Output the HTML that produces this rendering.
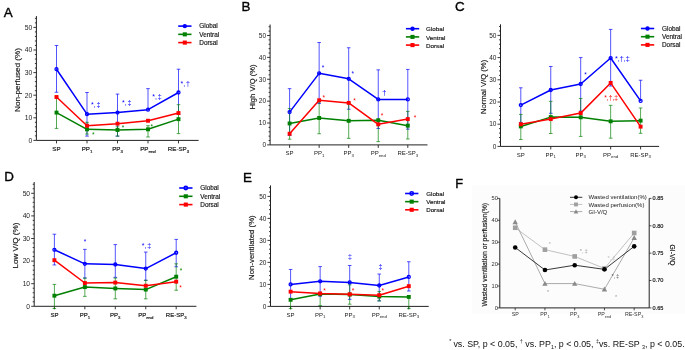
<!DOCTYPE html>
<html><head><meta charset="utf-8"><style>
html,body{margin:0;padding:0;background:#fff;}
svg{display:block;will-change:transform;font-family:"Liberation Sans", sans-serif;}
text{stroke-width:0.18px;}
.k{stroke:#1a1a1a;}
</style></head><body>
<svg width="685" height="350" viewBox="0 0 685 350">
<rect width="685" height="350" fill="#fff"/>
<rect x="472" y="185.5" width="213" height="128.5" fill="#fcfcfc"/>
<text x="3.8" y="17.3" font-size="13.4" fill="#000" style="stroke:#000;stroke-width:0.35px">A</text>
<path d="M36.4 16.1 V140.4 H198.6" fill="none" stroke="#222" stroke-width="1"/>
<path d="M33.4 140.4 H36.4 M34.9 135.88 H36.4 M34.9 131.36 H36.4 M34.9 126.84 H36.4 M34.9 122.32 H36.4 M33.4 117.8 H36.4 M34.9 113.28 H36.4 M34.9 108.76 H36.4 M34.9 104.24 H36.4 M34.9 99.72 H36.4 M33.4 95.2 H36.4 M34.9 90.68 H36.4 M34.9 86.16 H36.4 M34.9 81.64 H36.4 M34.9 77.12 H36.4 M33.4 72.6 H36.4 M34.9 68.08 H36.4 M34.9 63.56 H36.4 M34.9 59.04 H36.4 M34.9 54.52 H36.4 M33.4 50 H36.4 M34.9 45.48 H36.4 M34.9 40.96 H36.4 M34.9 36.44 H36.4 M34.9 31.92 H36.4 M33.4 27.4 H36.4 M34.9 22.88 H36.4 M34.9 18.36 H36.4 M56.5 140.4 V143.4 M87 140.4 V143.4 M117.5 140.4 V143.4 M148 140.4 V143.4 M178.5 140.4 V143.4" stroke="#222" stroke-width="0.9" fill="none"/>
<text x="32.3" y="142.78" font-size="6.8" text-anchor="end" fill="#222">0</text>
<text x="32.3" y="120.18" font-size="6.8" text-anchor="end" fill="#222">10</text>
<text x="32.3" y="97.58" font-size="6.8" text-anchor="end" fill="#222">20</text>
<text x="32.3" y="74.98" font-size="6.8" text-anchor="end" fill="#222">30</text>
<text x="32.3" y="52.38" font-size="6.8" text-anchor="end" fill="#222">40</text>
<text x="32.3" y="29.78" font-size="6.8" text-anchor="end" fill="#222">50</text>
<text x="56.5" y="151.1" font-size="6.2" text-anchor="middle" fill="#1a1a1a" class="k">SP</text>
<text x="87" y="151.1" font-size="6.2" text-anchor="middle" fill="#1a1a1a" class="k">PP<tspan font-size="4.4" dy="1.5">1</tspan></text>
<text x="117.5" y="151.1" font-size="6.2" text-anchor="middle" fill="#1a1a1a" class="k">PP<tspan font-size="4.4" dy="1.5">3</tspan></text>
<text x="148" y="151.1" font-size="6.2" text-anchor="middle" fill="#1a1a1a" class="k">PP<tspan font-size="4.4" dy="1.5">end</tspan></text>
<text x="178.5" y="151.1" font-size="6.2" text-anchor="middle" fill="#1a1a1a" class="k">RE-SP<tspan font-size="4.4" dy="1.5">3</tspan></text>
<text transform="translate(20.2,80) rotate(-90)" font-size="8.1" text-anchor="middle" fill="#1a1a1a" class="k">Non-perfused (%)</text>
<path d="M56.5 69.21 V45.48 M54.7 45.48 H58.3 M56.5 69.21 V92.26 M54.7 92.26 H58.3 M87 114.18 V92.49 M85.2 92.49 H88.8 M87 114.18 V136.11 M85.2 136.11 H88.8 M117.5 112.6 V94.07 M115.7 94.07 H119.3 M117.5 112.6 V136.11 M115.7 136.11 H119.3 M148 109.66 V88.65 M146.2 88.65 H149.8 M178.5 92.49 V69.21 M176.7 69.21 H180.3 M178.5 92.49 V114.41 M176.7 114.41 H180.3" stroke="#0000ff" stroke-width="0.85" fill="none" opacity="0.8"/>
<path d="M56.5 112.6 V96.78 M54.7 96.78 H58.3 M56.5 112.6 V128.42 M54.7 128.42 H58.3 M87 129.33 V122.32 M85.2 122.32 H88.8 M87 129.33 V134.07 M85.2 134.07 H88.8 M117.5 130 V126.84 M115.7 126.84 H119.3 M117.5 130 V136.11 M115.7 136.11 H119.3 M148 129.33 V125.71 M146.2 125.71 H149.8 M148 129.33 V137.01 M146.2 137.01 H149.8 M178.5 119.16 V104.69 M176.7 104.69 H180.3 M178.5 119.16 V133.62 M176.7 133.62 H180.3" stroke="#008000" stroke-width="0.85" fill="none" opacity="0.8"/>
<polyline points="56.5,69.21 87,114.18 117.5,112.6 148,109.66 178.5,92.49" fill="none" stroke="#0000ff" stroke-width="1.5" stroke-linejoin="round"/>
<circle cx="56.5" cy="69.21" r="1.5" fill="none" stroke="#0000ff" stroke-width="1.3"/>
<circle cx="87" cy="114.18" r="1.5" fill="none" stroke="#0000ff" stroke-width="1.3"/>
<circle cx="117.5" cy="112.6" r="1.5" fill="none" stroke="#0000ff" stroke-width="1.3"/>
<circle cx="148" cy="109.66" r="1.5" fill="none" stroke="#0000ff" stroke-width="1.3"/>
<circle cx="178.5" cy="92.49" r="1.5" fill="none" stroke="#0000ff" stroke-width="1.3"/>
<polyline points="56.5,112.6 87,129.33 117.5,130 148,129.33 178.5,119.16" fill="none" stroke="#008000" stroke-width="1.5" stroke-linejoin="round"/>
<rect x="54.55" y="110.65" width="3.9" height="3.9" fill="#008000"/>
<rect x="85.05" y="127.38" width="3.9" height="3.9" fill="#008000"/>
<rect x="115.55" y="128.05" width="3.9" height="3.9" fill="#008000"/>
<rect x="146.05" y="127.38" width="3.9" height="3.9" fill="#008000"/>
<rect x="176.55" y="117.21" width="3.9" height="3.9" fill="#008000"/>
<polyline points="56.5,97.01 87,125.71 117.5,123.68 148,120.74 178.5,113.05" fill="none" stroke="#ff0000" stroke-width="1.5" stroke-linejoin="round"/>
<rect x="54.55" y="95.06" width="3.9" height="3.9" fill="#ff0000"/>
<rect x="85.05" y="123.76" width="3.9" height="3.9" fill="#ff0000"/>
<rect x="115.55" y="121.73" width="3.9" height="3.9" fill="#ff0000"/>
<rect x="146.05" y="118.79" width="3.9" height="3.9" fill="#ff0000"/>
<rect x="176.55" y="111.1" width="3.9" height="3.9" fill="#ff0000"/>
<path d="M178.2 26.1 H191.5" stroke="#0000ff" stroke-width="1.6"/>
<circle cx="184.8" cy="26.1" r="2.18" fill="#0000ff"/>
<text x="199.3" y="28.34" font-size="6.4" fill="#1a1a1a" class="k">Global</text>
<path d="M178.2 34.35 H191.5" stroke="#008000" stroke-width="1.6"/>
<rect x="182.75" y="32.3" width="4.09" height="4.09" fill="#008000"/>
<text x="199.3" y="36.59" font-size="6.4" fill="#1a1a1a" class="k">Ventral</text>
<path d="M178.2 42.6 H191.5" stroke="#ff0000" stroke-width="1.6"/>
<rect x="182.75" y="40.55" width="4.09" height="4.09" fill="#ff0000"/>
<text x="199.3" y="44.84" font-size="6.4" fill="#1a1a1a" class="k">Dorsal</text>
<text x="91.1" y="106.7" font-size="7" fill="#0000ff">*,<tspan dx="0.8">‡</tspan></text>
<text x="122" y="105.3" font-size="7" fill="#0000ff">*,<tspan dx="0.8">‡</tspan></text>
<text x="152.3" y="98.5" font-size="7" fill="#0000ff">*,<tspan dx="0.8">‡</tspan></text>
<text x="180.6" y="86" font-size="7" fill="#0000ff">*,<tspan dx="0.8">†</tspan></text>
<text x="91.93" y="137.28" font-size="6.5" fill="#008000">*</text>
<text x="121.73" y="130.18" font-size="6.5" fill="#008000">*</text>
<text x="150.53" y="128.58" font-size="6.5" fill="#008000">*</text>
<text x="241.6" y="11.1" font-size="13.4" fill="#000" style="stroke:#000;stroke-width:0.35px">B</text>
<path d="M270.1 24.56 V144.9 H427.5" fill="none" stroke="#222" stroke-width="1"/>
<path d="M267.1 144.9 H270.1 M268.6 140.52 H270.1 M268.6 136.15 H270.1 M268.6 131.77 H270.1 M268.6 127.4 H270.1 M267.1 123.02 H270.1 M268.6 118.64 H270.1 M268.6 114.27 H270.1 M268.6 109.89 H270.1 M268.6 105.52 H270.1 M267.1 101.14 H270.1 M268.6 96.76 H270.1 M268.6 92.39 H270.1 M268.6 88.01 H270.1 M268.6 83.64 H270.1 M267.1 79.26 H270.1 M268.6 74.88 H270.1 M268.6 70.51 H270.1 M268.6 66.13 H270.1 M268.6 61.76 H270.1 M267.1 57.38 H270.1 M268.6 53 H270.1 M268.6 48.63 H270.1 M268.6 44.25 H270.1 M268.6 39.88 H270.1 M267.1 35.5 H270.1 M268.6 31.12 H270.1 M268.6 26.75 H270.1 M289.6 144.9 V147.9 M319.15 144.9 V147.9 M348.7 144.9 V147.9 M378.25 144.9 V147.9 M407.8 144.9 V147.9" stroke="#222" stroke-width="0.9" fill="none"/>
<text x="266" y="147.18" font-size="6.5" text-anchor="end" fill="#222">0</text>
<text x="266" y="125.3" font-size="6.5" text-anchor="end" fill="#222">10</text>
<text x="266" y="103.42" font-size="6.5" text-anchor="end" fill="#222">20</text>
<text x="266" y="81.54" font-size="6.5" text-anchor="end" fill="#222">30</text>
<text x="266" y="59.65" font-size="6.5" text-anchor="end" fill="#222">40</text>
<text x="266" y="37.77" font-size="6.5" text-anchor="end" fill="#222">50</text>
<text x="289.6" y="155.2" font-size="6.0" text-anchor="middle" fill="#222" class="n">SP</text>
<text x="319.15" y="155.2" font-size="6.0" text-anchor="middle" fill="#222" class="n">PP<tspan font-size="4.3" dy="1.5">1</tspan></text>
<text x="348.7" y="155.2" font-size="6.0" text-anchor="middle" fill="#222" class="n">PP<tspan font-size="4.3" dy="1.5">3</tspan></text>
<text x="378.25" y="155.2" font-size="6.0" text-anchor="middle" fill="#222" class="n">PP<tspan font-size="4.3" dy="1.5">end</tspan></text>
<text x="407.8" y="155.2" font-size="6.0" text-anchor="middle" fill="#222" class="n">RE-SP<tspan font-size="4.3" dy="1.5">3</tspan></text>
<text transform="translate(254.5,86.9) rotate(-90)" font-size="7.65" text-anchor="middle" fill="#1a1a1a" class="k">High V/Q (%)</text>
<path d="M289.6 112.08 V88.67 M287.8 88.67 H291.4 M289.6 112.08 V135.49 M287.8 135.49 H291.4 M319.15 73.35 V42.5 M317.35 42.5 H320.95 M319.15 73.35 V103.55 M317.35 103.55 H320.95 M348.7 78.82 V47.75 M346.9 47.75 H350.5 M348.7 78.82 V109.24 M346.9 109.24 H350.5 M378.25 99.39 V69.85 M376.45 69.85 H380.05 M378.25 99.39 V128.49 M376.45 128.49 H380.05 M407.8 99.39 V69.41 M406 69.41 H409.6 M407.8 99.39 V129.15 M406 129.15 H409.6" stroke="#0000ff" stroke-width="0.85" fill="none" opacity="0.8"/>
<path d="M289.6 123.46 V108.58 M287.8 108.58 H291.4 M289.6 123.46 V139.21 M287.8 139.21 H291.4 M319.15 117.99 V102.02 M317.35 102.02 H320.95 M319.15 117.99 V133.74 M317.35 133.74 H320.95 M348.7 120.83 V102.23 M346.9 102.23 H350.5 M348.7 120.83 V138.34 M346.9 138.34 H350.5 M378.25 120.18 V141.62 M376.45 141.62 H380.05 M407.8 125.65 V111.42 M406 111.42 H409.6 M407.8 125.65 V138.99 M406 138.99 H409.6" stroke="#008000" stroke-width="0.85" fill="none" opacity="0.8"/>
<polyline points="289.6,112.08 319.15,73.35 348.7,78.82 378.25,99.39 407.8,99.39" fill="none" stroke="#0000ff" stroke-width="1.5" stroke-linejoin="round"/>
<circle cx="289.6" cy="112.08" r="1.5" fill="none" stroke="#0000ff" stroke-width="1.3"/>
<circle cx="319.15" cy="73.35" r="1.5" fill="none" stroke="#0000ff" stroke-width="1.3"/>
<circle cx="348.7" cy="78.82" r="1.5" fill="none" stroke="#0000ff" stroke-width="1.3"/>
<circle cx="378.25" cy="99.39" r="1.5" fill="none" stroke="#0000ff" stroke-width="1.3"/>
<circle cx="407.8" cy="99.39" r="1.5" fill="none" stroke="#0000ff" stroke-width="1.3"/>
<polyline points="289.6,123.46 319.15,117.99 348.7,120.83 378.25,120.18 407.8,125.65" fill="none" stroke="#008000" stroke-width="1.5" stroke-linejoin="round"/>
<rect x="287.65" y="121.51" width="3.9" height="3.9" fill="#008000"/>
<rect x="317.2" y="116.04" width="3.9" height="3.9" fill="#008000"/>
<rect x="346.75" y="118.88" width="3.9" height="3.9" fill="#008000"/>
<rect x="376.3" y="118.23" width="3.9" height="3.9" fill="#008000"/>
<rect x="405.85" y="123.7" width="3.9" height="3.9" fill="#008000"/>
<polyline points="289.6,133.74 319.15,100.26 348.7,102.89 378.25,124.33 407.8,119.08" fill="none" stroke="#ff0000" stroke-width="1.5" stroke-linejoin="round"/>
<rect x="287.65" y="131.79" width="3.9" height="3.9" fill="#ff0000"/>
<rect x="317.2" y="98.31" width="3.9" height="3.9" fill="#ff0000"/>
<rect x="346.75" y="100.94" width="3.9" height="3.9" fill="#ff0000"/>
<rect x="376.3" y="122.38" width="3.9" height="3.9" fill="#ff0000"/>
<rect x="405.85" y="117.13" width="3.9" height="3.9" fill="#ff0000"/>
<path d="M405.9 28.7 H419.2" stroke="#0000ff" stroke-width="1.6"/>
<circle cx="412.5" cy="28.7" r="2.18" fill="#0000ff"/>
<text x="426" y="31.39" font-size="6.25" fill="#1a1a1a" class="k">Global</text>
<path d="M405.9 36.9 H419.2" stroke="#008000" stroke-width="1.6"/>
<rect x="410.45" y="34.85" width="4.09" height="4.09" fill="#008000"/>
<text x="426" y="39.59" font-size="6.25" fill="#1a1a1a" class="k">Ventral</text>
<path d="M405.9 45.1 H419.2" stroke="#ff0000" stroke-width="1.6"/>
<rect x="410.45" y="43.05" width="4.09" height="4.09" fill="#ff0000"/>
<text x="426" y="47.79" font-size="6.25" fill="#1a1a1a" class="k">Dorsal</text>
<text x="321.63" y="70.28" font-size="6.5" fill="#0000ff">*</text>
<text x="351.53" y="76.08" font-size="6.5" fill="#0000ff">*</text>
<text x="382.3" y="95.04" font-size="7.4" fill="#0000ff">†</text>
<text x="322.43" y="99.68" font-size="6.5" fill="#ff0000">*</text>
<text x="353.23" y="102.98" font-size="6.5" fill="#ff0000">*</text>
<text x="380.73" y="118.38" font-size="6.5" fill="#ff0000">*</text>
<text x="413.73" y="119.98" font-size="6.5" fill="#ff0000">*</text>
<text x="455" y="11.1" font-size="13.4" fill="#000" style="stroke:#000;stroke-width:0.35px">C</text>
<path d="M500.5 24.3 V146.4 H659.1" fill="none" stroke="#222" stroke-width="1"/>
<path d="M497.5 146.4 H500.5 M499 141.96 H500.5 M499 137.52 H500.5 M499 133.08 H500.5 M499 128.64 H500.5 M497.5 124.2 H500.5 M499 119.76 H500.5 M499 115.32 H500.5 M499 110.88 H500.5 M499 106.44 H500.5 M497.5 102 H500.5 M499 97.56 H500.5 M499 93.12 H500.5 M499 88.68 H500.5 M499 84.24 H500.5 M497.5 79.8 H500.5 M499 75.36 H500.5 M499 70.92 H500.5 M499 66.48 H500.5 M499 62.04 H500.5 M497.5 57.6 H500.5 M499 53.16 H500.5 M499 48.72 H500.5 M499 44.28 H500.5 M499 39.84 H500.5 M497.5 35.4 H500.5 M499 30.96 H500.5 M499 26.52 H500.5 M520.8 146.4 V149.4 M550.75 146.4 V149.4 M580.7 146.4 V149.4 M610.65 146.4 V149.4 M640.6 146.4 V149.4" stroke="#222" stroke-width="0.9" fill="none"/>
<text x="496.4" y="148.68" font-size="6.5" text-anchor="end" fill="#222">0</text>
<text x="496.4" y="126.48" font-size="6.5" text-anchor="end" fill="#222">10</text>
<text x="496.4" y="104.28" font-size="6.5" text-anchor="end" fill="#222">20</text>
<text x="496.4" y="82.08" font-size="6.5" text-anchor="end" fill="#222">30</text>
<text x="496.4" y="59.87" font-size="6.5" text-anchor="end" fill="#222">40</text>
<text x="496.4" y="37.67" font-size="6.5" text-anchor="end" fill="#222">50</text>
<text x="520.8" y="156.8" font-size="6.0" text-anchor="middle" fill="#222" class="n">SP</text>
<text x="550.75" y="156.8" font-size="6.0" text-anchor="middle" fill="#222" class="n">PP<tspan font-size="4.3" dy="1.5">1</tspan></text>
<text x="580.7" y="156.8" font-size="6.0" text-anchor="middle" fill="#222" class="n">PP<tspan font-size="4.3" dy="1.5">3</tspan></text>
<text x="610.65" y="156.8" font-size="6.0" text-anchor="middle" fill="#222" class="n">PP<tspan font-size="4.3" dy="1.5">end</tspan></text>
<text x="640.6" y="156.8" font-size="6.0" text-anchor="middle" fill="#222" class="n">RE-SP<tspan font-size="4.3" dy="1.5">3</tspan></text>
<text transform="translate(485.5,86.9) rotate(-90)" font-size="7.7" text-anchor="middle" fill="#1a1a1a" class="k">Normal V/Q (%)</text>
<path d="M520.8 105.11 V87.79 M519 87.79 H522.6 M520.8 105.11 V122.42 M519 122.42 H522.6 M550.75 90.01 V66.48 M548.95 66.48 H552.55 M550.75 90.01 V113.32 M548.95 113.32 H552.55 M580.7 84.02 V57.6 M578.9 57.6 H582.5 M580.7 84.02 V111.1 M578.9 111.1 H582.5 M610.65 58.04 V29.41 M608.85 29.41 H612.45 M610.65 58.04 V86.02 M608.85 86.02 H612.45 M640.6 100.89 V80.24 M638.8 80.24 H642.4" stroke="#0000ff" stroke-width="0.85" fill="none" opacity="0.8"/>
<path d="M520.8 126.42 V114.43 M519 114.43 H522.6 M520.8 126.42 V139.52 M519 139.52 H522.6 M550.75 117.1 V101.33 M548.95 101.33 H552.55 M550.75 117.1 V133.52 M548.95 133.52 H552.55 M580.7 117.32 V98.45 M578.9 98.45 H582.5 M580.7 117.32 V136.41 M578.9 136.41 H582.5 M610.65 121.31 V105.33 M608.85 105.33 H612.45 M610.65 121.31 V138.19 M608.85 138.19 H612.45 M640.6 120.65 V107.99 M638.8 107.99 H642.4 M640.6 120.65 V133.3 M638.8 133.3 H642.4" stroke="#008000" stroke-width="0.85" fill="none" opacity="0.8"/>
<polyline points="520.8,105.11 550.75,90.01 580.7,84.02 610.65,58.04 640.6,100.89" fill="none" stroke="#0000ff" stroke-width="1.5" stroke-linejoin="round"/>
<circle cx="520.8" cy="105.11" r="1.5" fill="none" stroke="#0000ff" stroke-width="1.3"/>
<circle cx="550.75" cy="90.01" r="1.5" fill="none" stroke="#0000ff" stroke-width="1.3"/>
<circle cx="580.7" cy="84.02" r="1.5" fill="none" stroke="#0000ff" stroke-width="1.3"/>
<circle cx="610.65" cy="58.04" r="1.5" fill="none" stroke="#0000ff" stroke-width="1.3"/>
<circle cx="640.6" cy="100.89" r="1.5" fill="none" stroke="#0000ff" stroke-width="1.3"/>
<polyline points="520.8,126.42 550.75,117.1 580.7,117.32 610.65,121.31 640.6,120.65" fill="none" stroke="#008000" stroke-width="1.5" stroke-linejoin="round"/>
<rect x="518.85" y="124.47" width="3.9" height="3.9" fill="#008000"/>
<rect x="548.8" y="115.15" width="3.9" height="3.9" fill="#008000"/>
<rect x="578.75" y="115.37" width="3.9" height="3.9" fill="#008000"/>
<rect x="608.7" y="119.36" width="3.9" height="3.9" fill="#008000"/>
<rect x="638.65" y="118.7" width="3.9" height="3.9" fill="#008000"/>
<polyline points="520.8,124.2 550.75,119.09 580.7,113.1 610.65,82.91 640.6,126.64" fill="none" stroke="#ff0000" stroke-width="1.5" stroke-linejoin="round"/>
<rect x="518.85" y="122.25" width="3.9" height="3.9" fill="#ff0000"/>
<rect x="548.8" y="117.14" width="3.9" height="3.9" fill="#ff0000"/>
<rect x="578.75" y="111.15" width="3.9" height="3.9" fill="#ff0000"/>
<rect x="608.7" y="80.96" width="3.9" height="3.9" fill="#ff0000"/>
<rect x="638.65" y="124.69" width="3.9" height="3.9" fill="#ff0000"/>
<path d="M640.9 28.5 H654.2" stroke="#0000ff" stroke-width="1.6"/>
<circle cx="647.5" cy="28.5" r="2.18" fill="#0000ff"/>
<text x="662" y="30.74" font-size="6.4" fill="#1a1a1a" class="k">Global</text>
<path d="M640.9 36.7 H654.2" stroke="#008000" stroke-width="1.6"/>
<rect x="645.45" y="34.65" width="4.09" height="4.09" fill="#008000"/>
<text x="662" y="38.94" font-size="6.4" fill="#1a1a1a" class="k">Ventral</text>
<path d="M640.9 44.9 H654.2" stroke="#ff0000" stroke-width="1.6"/>
<rect x="645.45" y="42.85" width="4.09" height="4.09" fill="#ff0000"/>
<text x="662" y="47.14" font-size="6.4" fill="#1a1a1a" class="k">Dorsal</text>
<text x="584.13" y="77.38" font-size="6.5" fill="#0000ff">*</text>
<text x="615" y="60.6" font-size="7.2" fill="#0000ff">*,<tspan dx="0">†</tspan>,<tspan dx="0">‡</tspan></text>
<text x="604.3" y="99.6" font-size="6.6" fill="#ff0000">*,<tspan dx="0">†</tspan>,<tspan dx="0">‡</tspan></text>
<text x="4.3" y="181.1" font-size="13.4" fill="#000" style="stroke:#000;stroke-width:0.35px">D</text>
<path d="M34.2 182 V306.3 H196.4" fill="none" stroke="#222" stroke-width="1"/>
<path d="M31.2 306.3 H34.2 M32.7 301.78 H34.2 M32.7 297.26 H34.2 M32.7 292.74 H34.2 M32.7 288.22 H34.2 M31.2 283.7 H34.2 M32.7 279.18 H34.2 M32.7 274.66 H34.2 M32.7 270.14 H34.2 M32.7 265.62 H34.2 M31.2 261.1 H34.2 M32.7 256.58 H34.2 M32.7 252.06 H34.2 M32.7 247.54 H34.2 M32.7 243.02 H34.2 M31.2 238.5 H34.2 M32.7 233.98 H34.2 M32.7 229.46 H34.2 M32.7 224.94 H34.2 M32.7 220.42 H34.2 M31.2 215.9 H34.2 M32.7 211.38 H34.2 M32.7 206.86 H34.2 M32.7 202.34 H34.2 M32.7 197.82 H34.2 M31.2 193.3 H34.2 M32.7 188.78 H34.2 M32.7 184.26 H34.2 M54.4 306.3 V309.3 M84.85 306.3 V309.3 M115.3 306.3 V309.3 M145.75 306.3 V309.3 M176.2 306.3 V309.3" stroke="#222" stroke-width="0.9" fill="none"/>
<text x="30.1" y="308.65" font-size="6.7" text-anchor="end" fill="#222">0</text>
<text x="30.1" y="286.05" font-size="6.7" text-anchor="end" fill="#222">10</text>
<text x="30.1" y="263.45" font-size="6.7" text-anchor="end" fill="#222">20</text>
<text x="30.1" y="240.84" font-size="6.7" text-anchor="end" fill="#222">30</text>
<text x="30.1" y="218.25" font-size="6.7" text-anchor="end" fill="#222">40</text>
<text x="30.1" y="195.65" font-size="6.7" text-anchor="end" fill="#222">50</text>
<text x="54.4" y="317.2" font-size="6.0" text-anchor="middle" fill="#1a1a1a" class="k">SP</text>
<text x="84.85" y="317.2" font-size="6.0" text-anchor="middle" fill="#1a1a1a" class="k">PP<tspan font-size="4.3" dy="1.5">1</tspan></text>
<text x="115.3" y="317.2" font-size="6.0" text-anchor="middle" fill="#1a1a1a" class="k">PP<tspan font-size="4.3" dy="1.5">3</tspan></text>
<text x="145.75" y="317.2" font-size="6.0" text-anchor="middle" fill="#1a1a1a" class="k">PP<tspan font-size="4.3" dy="1.5">end</tspan></text>
<text x="176.2" y="317.2" font-size="6.0" text-anchor="middle" fill="#1a1a1a" class="k">RE-SP<tspan font-size="4.3" dy="1.5">3</tspan></text>
<text transform="translate(17.8,245.6) rotate(-90)" font-size="8.1" text-anchor="middle" fill="#1a1a1a" class="k">Low V/Q (%)</text>
<path d="M54.4 249.8 V234.21 M52.6 234.21 H56.2 M54.4 249.8 V264.94 M52.6 264.94 H56.2 M84.85 263.81 V249.35 M83.05 249.35 H86.65 M84.85 263.81 V278.05 M83.05 278.05 H86.65 M115.3 264.49 V244.6 M113.5 244.6 H117.1 M115.3 264.49 V277.37 M113.5 277.37 H117.1 M145.75 268.56 V252.06 M143.95 252.06 H147.55 M145.75 268.56 V280.31 M143.95 280.31 H147.55 M176.2 252.74 V239.4 M174.4 239.4 H178 M176.2 252.74 V266.75 M174.4 266.75 H178" stroke="#0000ff" stroke-width="0.85" fill="none" opacity="0.8"/>
<path d="M54.4 295.68 V284.38 M52.6 284.38 H56.2 M54.4 295.68 V308.56 M52.6 308.56 H56.2 M84.85 287.09 V278.05 M83.05 278.05 H86.65 M84.85 287.09 V296.36 M83.05 296.36 H86.65 M115.3 288.45 V278.05 M113.5 278.05 H117.1 M115.3 288.45 V298.84 M113.5 298.84 H117.1 M145.75 289.58 V280.31 M143.95 280.31 H147.55 M145.75 289.58 V298.84 M143.95 298.84 H147.55 M176.2 276.69 V263.81 M174.4 263.81 H178 M176.2 276.69 V290.25 M174.4 290.25 H178" stroke="#008000" stroke-width="0.85" fill="none" opacity="0.8"/>
<polyline points="54.4,249.8 84.85,263.81 115.3,264.49 145.75,268.56 176.2,252.74" fill="none" stroke="#0000ff" stroke-width="1.5" stroke-linejoin="round"/>
<circle cx="54.4" cy="249.8" r="1.5" fill="none" stroke="#0000ff" stroke-width="1.3"/>
<circle cx="84.85" cy="263.81" r="1.5" fill="none" stroke="#0000ff" stroke-width="1.3"/>
<circle cx="115.3" cy="264.49" r="1.5" fill="none" stroke="#0000ff" stroke-width="1.3"/>
<circle cx="145.75" cy="268.56" r="1.5" fill="none" stroke="#0000ff" stroke-width="1.3"/>
<circle cx="176.2" cy="252.74" r="1.5" fill="none" stroke="#0000ff" stroke-width="1.3"/>
<polyline points="54.4,295.68 84.85,287.09 115.3,288.45 145.75,289.58 176.2,276.69" fill="none" stroke="#008000" stroke-width="1.5" stroke-linejoin="round"/>
<rect x="52.45" y="293.73" width="3.9" height="3.9" fill="#008000"/>
<rect x="82.9" y="285.14" width="3.9" height="3.9" fill="#008000"/>
<rect x="113.35" y="286.5" width="3.9" height="3.9" fill="#008000"/>
<rect x="143.8" y="287.63" width="3.9" height="3.9" fill="#008000"/>
<rect x="174.25" y="274.74" width="3.9" height="3.9" fill="#008000"/>
<polyline points="54.4,260.2 84.85,283.02 115.3,282.57 145.75,285.73 176.2,281.67" fill="none" stroke="#ff0000" stroke-width="1.5" stroke-linejoin="round"/>
<rect x="52.45" y="258.25" width="3.9" height="3.9" fill="#ff0000"/>
<rect x="82.9" y="281.07" width="3.9" height="3.9" fill="#ff0000"/>
<rect x="113.35" y="280.62" width="3.9" height="3.9" fill="#ff0000"/>
<rect x="143.8" y="283.78" width="3.9" height="3.9" fill="#ff0000"/>
<rect x="174.25" y="279.72" width="3.9" height="3.9" fill="#ff0000"/>
<path d="M179.2 188 H192.5" stroke="#0000ff" stroke-width="1.6"/>
<circle cx="185.8" cy="188" r="1.72" fill="none" stroke="#0000ff" stroke-width="1.49"/>
<text x="200.3" y="190.24" font-size="6.4" fill="#1a1a1a" class="k">Global</text>
<path d="M179.2 196.3 H192.5" stroke="#008000" stroke-width="1.6"/>
<rect x="183.75" y="194.25" width="4.09" height="4.09" fill="#008000"/>
<text x="200.3" y="198.54" font-size="6.4" fill="#1a1a1a" class="k">Ventral</text>
<path d="M179.2 204.6 H192.5" stroke="#ff0000" stroke-width="1.6"/>
<rect x="183.75" y="202.55" width="4.09" height="4.09" fill="#ff0000"/>
<text x="200.3" y="206.84" font-size="6.4" fill="#1a1a1a" class="k">Dorsal</text>
<text x="83.73" y="244.48" font-size="6.5" fill="#0000ff">*</text>
<text x="141.8" y="248.2" font-size="7" fill="#0000ff">*,<tspan dx="0.8">‡</tspan></text>
<text x="179.73" y="273.38" font-size="6.5" fill="#008000">*</text>
<text x="179.33" y="289.88" font-size="6.5" fill="#ff0000">*</text>
<text x="243.1" y="182.3" font-size="13.4" fill="#000" style="stroke:#000;stroke-width:0.35px">E</text>
<path d="M270.5 185.4 V306.4 H428.7" fill="none" stroke="#222" stroke-width="1"/>
<path d="M267.5 306.4 H270.5 M269 302 H270.5 M269 297.6 H270.5 M269 293.2 H270.5 M269 288.8 H270.5 M267.5 284.4 H270.5 M269 280 H270.5 M269 275.6 H270.5 M269 271.2 H270.5 M269 266.8 H270.5 M267.5 262.4 H270.5 M269 258 H270.5 M269 253.6 H270.5 M269 249.2 H270.5 M269 244.8 H270.5 M267.5 240.4 H270.5 M269 236 H270.5 M269 231.6 H270.5 M269 227.2 H270.5 M269 222.8 H270.5 M267.5 218.4 H270.5 M269 214 H270.5 M269 209.6 H270.5 M269 205.2 H270.5 M269 200.8 H270.5 M267.5 196.4 H270.5 M269 192 H270.5 M269 187.6 H270.5 M290.6 306.4 V309.4 M320.15 306.4 V309.4 M349.7 306.4 V309.4 M379.25 306.4 V309.4 M408.8 306.4 V309.4" stroke="#222" stroke-width="0.9" fill="none"/>
<text x="266.4" y="308.67" font-size="6.5" text-anchor="end" fill="#222">0</text>
<text x="266.4" y="286.67" font-size="6.5" text-anchor="end" fill="#222">10</text>
<text x="266.4" y="264.67" font-size="6.5" text-anchor="end" fill="#222">20</text>
<text x="266.4" y="242.67" font-size="6.5" text-anchor="end" fill="#222">30</text>
<text x="266.4" y="220.67" font-size="6.5" text-anchor="end" fill="#222">40</text>
<text x="266.4" y="198.67" font-size="6.5" text-anchor="end" fill="#222">50</text>
<text x="290.6" y="316.8" font-size="6.0" text-anchor="middle" fill="#222" class="n">SP</text>
<text x="320.15" y="316.8" font-size="6.0" text-anchor="middle" fill="#222" class="n">PP<tspan font-size="4.3" dy="1.5">1</tspan></text>
<text x="349.7" y="316.8" font-size="6.0" text-anchor="middle" fill="#222" class="n">PP<tspan font-size="4.3" dy="1.5">3</tspan></text>
<text x="379.25" y="316.8" font-size="6.0" text-anchor="middle" fill="#222" class="n">PP<tspan font-size="4.3" dy="1.5">end</tspan></text>
<text x="408.8" y="316.8" font-size="6.0" text-anchor="middle" fill="#222" class="n">RE-SP<tspan font-size="4.3" dy="1.5">3</tspan></text>
<text transform="translate(254.4,247.6) rotate(-90)" font-size="7.8" text-anchor="middle" fill="#1a1a1a" class="k">Non-ventilated (%)</text>
<path d="M290.6 284.4 V269.44 M288.8 269.44 H292.4 M290.6 284.4 V298.7 M288.8 298.7 H292.4 M320.15 281.32 V266.58 M318.35 266.58 H321.95 M320.15 281.32 V296.28 M318.35 296.28 H321.95 M349.7 282.42 V265.48 M347.9 265.48 H351.5 M349.7 282.42 V299.36 M347.9 299.36 H351.5 M379.25 285.5 V274.06 M377.45 274.06 H381.05 M379.25 285.5 V300.9 M377.45 300.9 H381.05 M408.8 276.92 V261.74 M407 261.74 H410.6 M408.8 276.92 V291 M407 291 H410.6" stroke="#0000ff" stroke-width="0.85" fill="none" opacity="0.8"/>
<path d="M290.6 299.8 V308.6 M288.8 308.6 H292.4 M320.15 294.08 V305.52 M318.35 305.52 H321.95 M349.7 294.52 V284.84 M347.9 284.84 H351.5 M349.7 294.52 V304.2 M347.9 304.2 H351.5 M379.25 296.5 V291.44 M377.45 291.44 H381.05 M379.25 296.5 V300.9 M377.45 300.9 H381.05 M408.8 296.94 V308.6 M407 308.6 H410.6" stroke="#008000" stroke-width="0.85" fill="none" opacity="0.8"/>
<polyline points="290.6,284.4 320.15,281.32 349.7,282.42 379.25,285.5 408.8,276.92" fill="none" stroke="#0000ff" stroke-width="1.5" stroke-linejoin="round"/>
<circle cx="290.6" cy="284.4" r="1.5" fill="none" stroke="#0000ff" stroke-width="1.3"/>
<circle cx="320.15" cy="281.32" r="1.5" fill="none" stroke="#0000ff" stroke-width="1.3"/>
<circle cx="349.7" cy="282.42" r="1.5" fill="none" stroke="#0000ff" stroke-width="1.3"/>
<circle cx="379.25" cy="285.5" r="1.5" fill="none" stroke="#0000ff" stroke-width="1.3"/>
<circle cx="408.8" cy="276.92" r="1.5" fill="none" stroke="#0000ff" stroke-width="1.3"/>
<polyline points="290.6,299.8 320.15,294.08 349.7,294.52 379.25,296.5 408.8,296.94" fill="none" stroke="#008000" stroke-width="1.5" stroke-linejoin="round"/>
<rect x="288.65" y="297.85" width="3.9" height="3.9" fill="#008000"/>
<rect x="318.2" y="292.13" width="3.9" height="3.9" fill="#008000"/>
<rect x="347.75" y="292.57" width="3.9" height="3.9" fill="#008000"/>
<rect x="377.3" y="294.55" width="3.9" height="3.9" fill="#008000"/>
<rect x="406.85" y="294.99" width="3.9" height="3.9" fill="#008000"/>
<polyline points="290.6,291.66 320.15,293.42 349.7,294.3 379.25,295.18 408.8,286.16" fill="none" stroke="#ff0000" stroke-width="1.5" stroke-linejoin="round"/>
<rect x="288.65" y="289.71" width="3.9" height="3.9" fill="#ff0000"/>
<rect x="318.2" y="291.47" width="3.9" height="3.9" fill="#ff0000"/>
<rect x="347.75" y="292.35" width="3.9" height="3.9" fill="#ff0000"/>
<rect x="377.3" y="293.23" width="3.9" height="3.9" fill="#ff0000"/>
<rect x="406.85" y="284.21" width="3.9" height="3.9" fill="#ff0000"/>
<path d="M405.1 193.5 H418.4" stroke="#0000ff" stroke-width="1.6"/>
<circle cx="411.7" cy="193.5" r="1.72" fill="none" stroke="#0000ff" stroke-width="1.49"/>
<text x="426.2" y="195.67" font-size="6.2" fill="#1a1a1a" class="k">Global</text>
<path d="M405.1 201.65 H418.4" stroke="#008000" stroke-width="1.6"/>
<rect x="409.65" y="199.6" width="4.09" height="4.09" fill="#008000"/>
<text x="426.2" y="203.82" font-size="6.2" fill="#1a1a1a" class="k">Ventral</text>
<path d="M405.1 209.8 H418.4" stroke="#ff0000" stroke-width="1.6"/>
<rect x="409.65" y="207.75" width="4.09" height="4.09" fill="#ff0000"/>
<text x="426.2" y="211.97" font-size="6.2" fill="#1a1a1a" class="k">Dorsal</text>
<text x="348.11" y="258.81" font-size="7" fill="#0000ff">‡</text>
<text x="378.51" y="268.51" font-size="7" fill="#0000ff">‡</text>
<text x="323.23" y="293.38" font-size="6.5" fill="#ff0000">*</text>
<text x="351.83" y="293.38" font-size="6.5" fill="#ff0000">*</text>
<text x="381.53" y="292.98" font-size="6.5" fill="#ff0000">*</text>
<text x="455.2" y="187.6" font-size="12.8" fill="#000" style="stroke:#000;stroke-width:0.35px">F</text>
<path d="M499.8 198.4 V307.9 H649.2 V198.4" fill="none" stroke="#222" stroke-width="1"/>
<path d="M497.2 307.9 H499.8 M497.2 286 H499.8 M497.2 264.1 H499.8 M497.2 242.2 H499.8 M497.2 220.3 H499.8 M497.2 198.4 H499.8 M649.2 307.9 H651.4 M649.2 280.52 H651.4 M649.2 253.15 H651.4 M649.2 225.77 H651.4 M649.2 198.4 H651.4 M515.2 307.9 V310.3 M544.95 307.9 V310.3 M574.7 307.9 V310.3 M604.45 307.9 V310.3 M634.2 307.9 V310.3" stroke="#222" stroke-width="0.8" fill="none"/>
<text x="497.9" y="309.89" font-size="5.7" text-anchor="end" fill="#333">0</text>
<text x="497.9" y="288" font-size="5.7" text-anchor="end" fill="#333">10</text>
<text x="497.9" y="266.09" font-size="5.7" text-anchor="end" fill="#333">20</text>
<text x="497.9" y="244.19" font-size="5.7" text-anchor="end" fill="#333">30</text>
<text x="497.9" y="222.29" font-size="5.7" text-anchor="end" fill="#333">40</text>
<text x="497.9" y="200.39" font-size="5.7" text-anchor="end" fill="#333">50</text>
<text x="652.6" y="309.86" font-size="5.6" fill="#1a1a1a" class="k">0.65</text>
<text x="652.6" y="282.48" font-size="5.6" fill="#1a1a1a" class="k">0.70</text>
<text x="652.6" y="255.11" font-size="5.6" fill="#1a1a1a" class="k">0.75</text>
<text x="652.6" y="227.73" font-size="5.6" fill="#1a1a1a" class="k">0.80</text>
<text x="652.6" y="200.36" font-size="5.6" fill="#1a1a1a" class="k">0.85</text>
<text x="515.2" y="316.4" font-size="5.3" text-anchor="middle" fill="#333" class="n">SP</text>
<text x="544.95" y="316.4" font-size="5.3" text-anchor="middle" fill="#333" class="n">PP<tspan font-size="3.9" dy="1.3">1</tspan></text>
<text x="574.7" y="316.4" font-size="5.3" text-anchor="middle" fill="#333" class="n">PP<tspan font-size="3.9" dy="1.3">3</tspan></text>
<text x="604.45" y="316.4" font-size="5.3" text-anchor="middle" fill="#333" class="n">PP<tspan font-size="3.9" dy="1.3">end</tspan></text>
<text x="634.2" y="316.4" font-size="5.3" text-anchor="middle" fill="#333" class="n">RE-SP<tspan font-size="3.9" dy="1.3">3</tspan></text>
<text transform="translate(486.6,254.7) rotate(-90)" font-size="6.8" text-anchor="middle" fill="#1a1a1a" class="k">Wasted ventilation or perfusion(%)</text>
<text transform="translate(670.2,255) rotate(90)" font-size="6.7" text-anchor="middle" fill="#1a1a1a" class="k">GI-V/Q</text>
<polyline points="515.2,222.05 544.95,283.59 574.7,283.59 604.45,289.28 634.2,237.82" fill="none" stroke="#888" stroke-width="0.7"/>
<polyline points="515.2,227.75 544.95,249.65 574.7,256.44 604.45,268.48 634.2,233" fill="none" stroke="#a8a8a8" stroke-width="0.7"/>
<polyline points="515.2,247.46 544.95,270.01 574.7,265.19 604.45,269.36 634.2,246.36" fill="none" stroke="#222" stroke-width="0.9"/>
<path d="M515.2 219.35 L517.9 224.21 L512.5 224.21 Z" fill="#8a8a8a"/>
<path d="M544.95 280.89 L547.65 285.75 L542.25 285.75 Z" fill="#8a8a8a"/>
<path d="M574.7 280.89 L577.4 285.75 L572 285.75 Z" fill="#8a8a8a"/>
<path d="M604.45 286.58 L607.15 291.44 L601.75 291.44 Z" fill="#8a8a8a"/>
<path d="M634.2 235.12 L636.9 239.98 L631.5 239.98 Z" fill="#8a8a8a"/>
<rect x="512.9" y="225.45" width="4.6" height="4.6" fill="#a0a0a0"/>
<rect x="542.65" y="247.35" width="4.6" height="4.6" fill="#a0a0a0"/>
<rect x="572.4" y="254.13" width="4.6" height="4.6" fill="#a0a0a0"/>
<rect x="602.15" y="266.18" width="4.6" height="4.6" fill="#a0a0a0"/>
<rect x="631.9" y="230.7" width="4.6" height="4.6" fill="#a0a0a0"/>
<circle cx="515.2" cy="247.46" r="2.3" fill="#000"/>
<circle cx="544.95" cy="270.01" r="2.3" fill="#000"/>
<circle cx="574.7" cy="265.19" r="2.3" fill="#000"/>
<circle cx="604.45" cy="269.36" r="2.3" fill="#000"/>
<circle cx="634.2" cy="246.36" r="2.3" fill="#000"/>
<path d="M570 197.3 H582.3" stroke="#222" stroke-width="0.9"/>
<circle cx="576" cy="197.3" r="1.95" fill="#000"/>
<text x="588.6" y="199.4" font-size="6" fill="#1a1a1a">Wasted ventilation(%)</text>
<path d="M570 204.45 H582.3" stroke="#a8a8a8" stroke-width="0.7"/>
<rect x="574.04" y="202.5" width="3.91" height="3.91" fill="#a0a0a0"/>
<text x="588.6" y="206.55" font-size="6" fill="#1a1a1a">Wasted perfusion(%)</text>
<path d="M570 211.6 H582.3" stroke="#888" stroke-width="0.7"/>
<path d="M576 209.31 L578.29 213.44 L573.71 213.44 Z" fill="#8a8a8a"/>
<text x="588.6" y="213.7" font-size="6" fill="#1a1a1a">GI-V/Q</text>
<text x="548.83" y="245.94" font-size="5.5" fill="#aaa">*</text>
<text x="546.93" y="293.94" font-size="5.5" fill="#999">*</text>
<text x="579.7" y="252.5" font-size="5.8" fill="#999">*,<tspan dx="0.8">‡</tspan></text>
<text x="607.5" y="259.5" font-size="5.8" fill="#bbb">*,<tspan dx="0.8">‡</tspan></text>
<text x="611.4" y="278.2" font-size="5.8" fill="#555">*,<tspan dx="0.8">‡</tspan></text>
<text x="615.03" y="298.64" font-size="5.5" fill="#999">*</text>
<text x="449.3" y="346.9" font-size="8.85" fill="#111"><tspan font-size="5.4" dy="-3.6">*</tspan><tspan dy="3.6" dx="2">vs. SP, p &lt; 0.05, </tspan><tspan font-size="5.4" dy="-3.6">†</tspan><tspan dy="3.6"> vs. PP</tspan><tspan font-size="5.4" dy="1.9">1</tspan><tspan dy="-1.9">, p &lt; 0.05, </tspan><tspan font-size="5.4" dy="-3.6">‡</tspan><tspan dy="3.6">vs. RE-SP </tspan><tspan font-size="5.4" dy="1.9">3</tspan><tspan dy="-1.9">, p &lt; 0.05.</tspan></text>
</svg>
</body></html>
